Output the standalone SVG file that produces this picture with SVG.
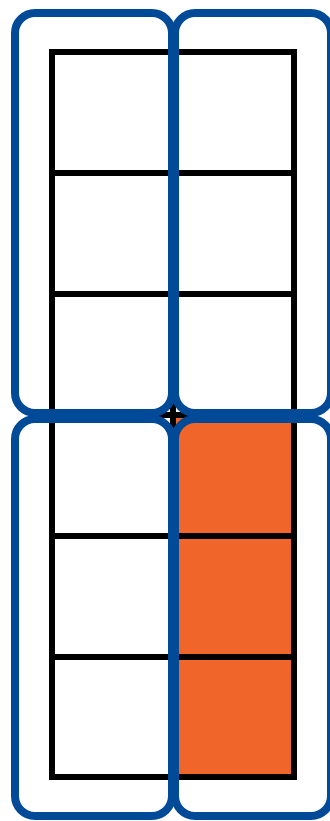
<svg xmlns="http://www.w3.org/2000/svg" width="330" height="821" viewBox="0 0 330 821">
<style>
.cell{fill:#fff;stroke:#000;stroke-width:6}
.on{fill:#F0652A}
.grp{fill:none;stroke:#004A97;stroke-width:8}
</style>
<rect width="330" height="821" fill="#fff"/>
<g id="grid">
<rect class="cell" x="52" y="52" width="121" height="121"/>
<rect class="cell" x="173" y="52" width="121" height="121"/>
<rect class="cell" x="52" y="173" width="121" height="121"/>
<rect class="cell" x="173" y="173" width="121" height="121"/>
<rect class="cell" x="52" y="294" width="121" height="121"/>
<rect class="cell" x="173" y="294" width="121" height="121"/>
<rect class="cell" x="52" y="415" width="121" height="121"/>
<rect class="cell on" x="173" y="415" width="121" height="121"/>
<rect class="cell" x="52" y="536" width="121" height="121"/>
<rect class="cell on" x="173" y="536" width="121" height="121"/>
<rect class="cell" x="52" y="657" width="121" height="120"/>
<rect class="cell on" x="173" y="657" width="121" height="120"/>
</g>
<g id="groups">
<rect id="g1" class="grp" x="15" y="13" width="157" height="400" rx="20"/>
<rect id="g2" class="grp" x="175" y="13" width="156" height="400" rx="20"/>
<rect id="g3" class="grp" x="15" y="419" width="157" height="397" rx="20"/>
<rect id="g4" class="grp" x="175" y="419" width="156" height="397" rx="20"/>
</g>
</svg>
